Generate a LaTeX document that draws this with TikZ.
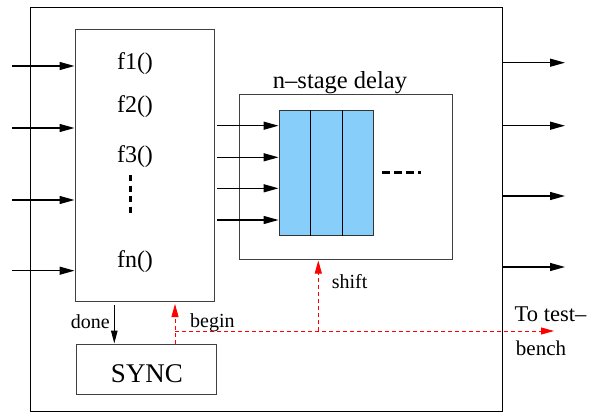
\documentclass[tikz,border=0pt]{standalone}
\usepackage{fontspec}
\setmainfont{Liberation Serif}
\newfontfamily\tms{Liberation Serif}
\usetikzlibrary{arrows.meta}
\definecolor{regblue}{HTML}{87CEFA}
\tikzset{
  box/.style={draw=black!75, line width=1pt},
  arr/.style={line width=1.3pt, -{Triangle[length=15pt,width=8pt]}},
  sarr/.style={line width=1.2pt, -{Triangle[length=13pt,width=6.5pt]}},
  redarr/.style={red, line width=0.9pt, dash pattern=on 4pt off 3pt, -{Triangle[length=13pt,width=7pt]}},
  big/.style={font=\tms\fontsize{24}{27}\selectfont, anchor=base, inner sep=0pt},
  small/.style={font=\tms\fontsize{20}{23}\selectfont, anchor=base, inner sep=0pt},
}
\begin{document}
\begin{tikzpicture}[x=1pt,y=-1pt]
\useasboundingbox (0,0) rectangle (591,412);
% outer box
\draw[line width=1pt] (30.5,8) rectangle (502,411);
% function box
\node[box, minimum width=139pt, minimum height=271pt, inner sep=0pt] (fb) at (144.5,165.5) {};
\node[big] (f1) at (135,70) {f1()};
\node[big] (f2) at (135,112) {f2()};
\node[big] (f3) at (135,162) {f3()};
\node[big] (fn) at (135,267) {fn()};
\draw[line width=3pt, dash pattern=on 6pt off 4.5pt] (130,175) -- (130,215);
% delay box
\node[box, minimum width=213pt, minimum height=165pt, inner sep=0pt] (db) at (345.8,176.8) {};
\node[big, font=\tms\fontsize{24.5}{27}\selectfont] (dl) at (340,88) {n–stage delay};
% register
\node[draw=black!80, fill=regblue, line width=0.9pt, minimum width=94.7pt, minimum height=125.7pt, inner sep=0pt] (reg) at (326.35,172.85) {};
\draw[line width=0.9pt] (310.7,110) -- (310.7,235.7);
\draw[line width=0.9pt] (342.3,110) -- (342.3,235.7);
\draw[line width=3pt, dash pattern=on 7.5pt off 4.5pt] (382,172.7) -- (421,172.7);
% input arrows
\foreach \y/\n in {66/a,128/b,200/c,270.7/d}{
  \coordinate (in\n) at (12,\y);
  \draw[arr] (in\n) -- (fb.west |- in\n);
}
% fb to register arrows
\foreach \y/\n in {125.7/a,157.3/b,188.3/c,220/d}{
  \coordinate (m\n) at (217,\y);
  \draw[arr] (m\n) -- (reg.west |- m\n);
}
% output arrows
\foreach \y/\n in {62.7/a,125.7/b,196/c,267/d}{
  \coordinate (o\n) at (502,\y);
  \coordinate (oe\n) at (565,\y);
  \draw[arr] (o\n) -- (oe\n);
}
% sync box
\node[box, minimum width=140pt, minimum height=50pt, inner sep=0pt] (sync) at (146.7,369) {};
\node[big, font=\tms\fontsize{27}{30}\selectfont] (st) at (147,382.7) {SYNC};
% done arrow
\coordinate (dtop) at (114.3,305);
\draw[sarr] (dtop) -- (sync.north -| dtop);
\node[small, anchor=base east] (done) at (110,328) {done};
% begin arrow and red lines
\coordinate (bb) at (175,344);
\coordinate (bc) at (175,331);
\coordinate (bt) at (175,304);
\draw[redarr] (bb) -- (bt);
\coordinate (tb) at (554,331);
\draw[redarr] (bc) -- (tb);
\coordinate (sb) at (318.3,331);
\draw[redarr] (sb) -- (318.3,260.5);
\node[small, anchor=base west] (begin) at (190,327) {begin};
\node[small, anchor=base west] (shift) at (331.7,288.3) {shift};
\node[small, font=\tms\fontsize{22.5}{24}\selectfont] (tt) at (550.5,321.7) {To test–};
\node[small, font=\tms\fontsize{21}{24}\selectfont] (bench) at (541,355) {bench};
\end{tikzpicture}
\end{document}
